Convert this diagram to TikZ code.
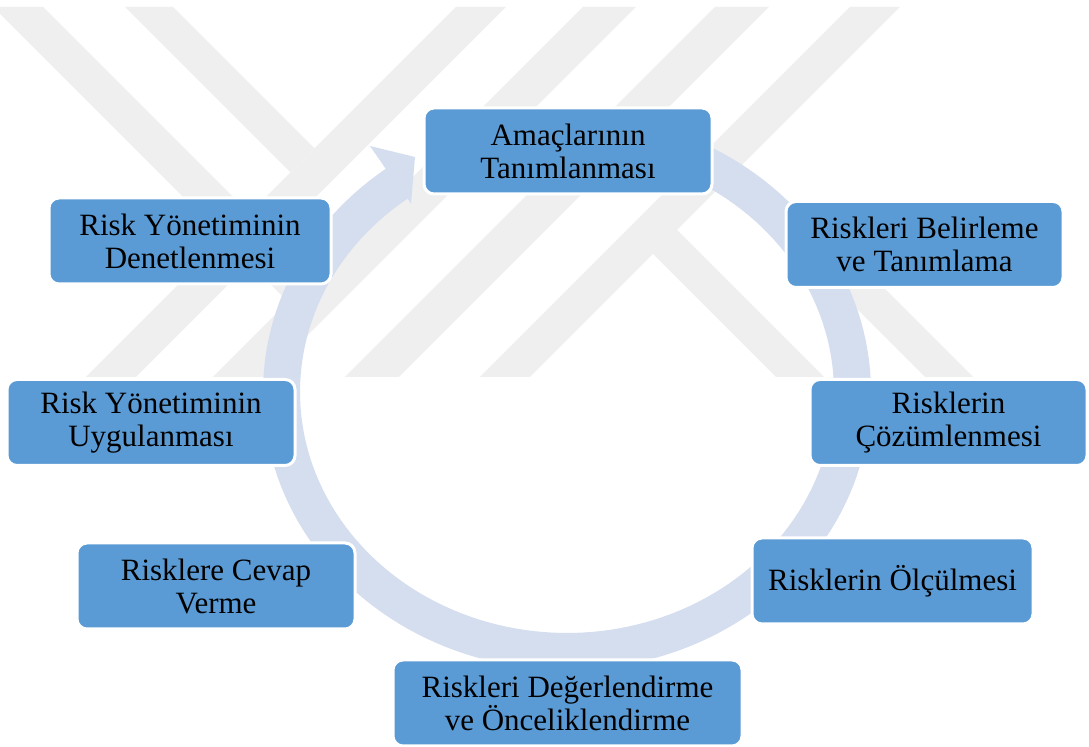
\documentclass[tikz,border=0pt]{standalone}
\usepackage{fontspec}
\setmainfont{Liberation Serif}
\definecolor{boxblue}{RGB}{91,155,213}
\definecolor{ringblue}{RGB}{213,222,239}
\definecolor{wmgray}{RGB}{239,239,239}
\begin{document}
\begin{tikzpicture}[x=0.5pt,y=-0.5pt,
  box/.style={rounded corners=5pt, fill=boxblue, draw=white, line width=1.5pt,
    align=center, inner sep=0pt, minimum height=43pt,
    font=\fontsize{15.5}{16.5}\selectfont},
  wm/.style={fill=wmgray},
  ringfill/.style={fill=ringblue}]
\useasboundingbox (0,0) rectangle (1089,747);
\fill[white] (0,0) rectangle (1089,747);
% watermark
\fill[wm] (456,7) -- (506,7) -- (136,377) -- (86,377) -- cycle;
\fill[wm] (583,7) -- (636,7) -- (266,377) -- (213,377) -- cycle;
\fill[wm] (715,7) -- (769,7) -- (399,377) -- (345,377) -- cycle;
\fill[wm] (850,7) -- (900,7) -- (530,377) -- (480,377) -- cycle;
\fill[wm] (125,7) -- (173,7) -- (314.5,148.5) -- (290.5,172.5) -- cycle;
\fill[wm] (0,7) -- (43,7) -- (313,277) -- (288,302) -- (0,14) -- cycle;
\fill[wm] (652,205) -- (824,377) -- (776,377) -- (653,254) -- cycle;
\fill[wm] (798,250) -- (846,250) -- (973,377) -- (925,377) -- cycle;
% circular arrow
\fill[ringfill] plot[domain=0:323.4, samples=160] ({567+304*cos(90-\x)},{392-278*sin(90-\x)})
  -- (370,146) -- (415,157) -- (411,204)
  -- plot[domain=0:323.4, samples=160] ({567+267*cos(-233.4+\x)},{392-241*sin(-233.4+\x)})
  -- cycle;
% boxes
\node[box, minimum width=144pt] (n1) at (568,151) {Amaçlarının\\Tanımlanması};
\node[box, minimum width=138.5pt] (n2) at (924.5,244.5) {Riskleri Belirleme\\ve Tanımlama};
\node[box, minimum width=138.5pt] (n3) at (948.5,422.5) {Risklerin\\Çözümlenmesi};
\node[box, minimum width=140.5pt] (n4) at (892.5,581) {Risklerin Ölçülmesi};
\node[box, minimum width=174.5pt] (n5) at (567.5,703) {Riskleri Değerlendirme\\ve Önceliklendirme};
\node[box, minimum width=139pt] (n6) at (216,586) {Risklere Cevap\\Verme};
\node[box, minimum width=144pt] (n7) at (151,422.5) {Risk Yönetiminin\\Uygulanması};
\node[box, minimum width=141pt] (n8) at (190,241) {Risk Yönetiminin\\Denetlenmesi};
\end{tikzpicture}
\end{document}
